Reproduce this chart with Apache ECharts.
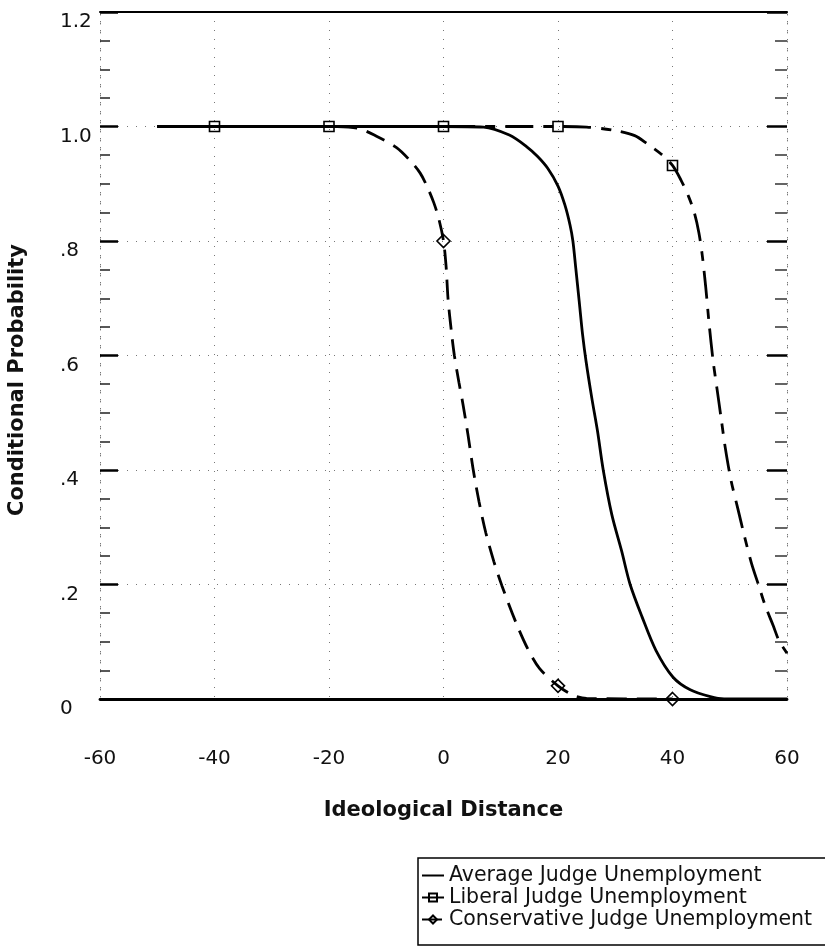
<!DOCTYPE html>
<html><head><meta charset="utf-8">
<script src="https://cdn.jsdelivr.net/npm/echarts@6/dist/echarts.min.js"></script>
<style>html,body{margin:0;padding:0;background:#fff}#c{width:825px;height:952px}</style>
</head><body><div id="c"></div>
<script>
const seriesNames = ['Average Judge Unemployment', 'Liberal Judge Unemployment', 'Conservative Judge Unemployment'];
const xTitle = 'Ideological Distance';
const yTitle = 'Conditional Probability';
const yTickLabels = ['0', '.2', '.4', '.6', '.8', '1.0', '1.2'];

const avgX = [-50, 0, 7, 11.5, 14.5, 16.4, 18.2, 20, 21.2, 22.1, 22.6, 23.1, 23.7, 24.3, 24.9, 25.9, 26.9, 27.9, 29.4, 31.1, 32.6, 34.7, 37.1, 40.1, 43.1, 46.6, 49, 60];
const avgY = [1, 1, 0.999, 0.985, 0.965, 0.948, 0.927, 0.896, 0.863, 0.828, 0.80, 0.753, 0.695, 0.636, 0.59, 0.526, 0.468, 0.40, 0.322, 0.259, 0.20, 0.143, 0.085, 0.038, 0.016, 0.004, 0, 0];

const libX = [-50, -40, -20, 0, 20, 25, 29.9, 33.4, 35.7, 38, 40, 41.5, 42.8, 43.8, 44.6, 45.2, 45.8, 46.4, 47.1, 47.8, 48.5, 49.2, 50.2, 51.4, 52.6, 53.8, 55, 56.2, 57.6, 58.6, 60];
const libY = [1, 1, 1, 1, 1, 0.999, 0.993, 0.984, 0.969, 0.952, 0.932, 0.906, 0.878, 0.85, 0.815, 0.775, 0.72, 0.655, 0.59, 0.54, 0.49, 0.44, 0.383, 0.333, 0.283, 0.237, 0.20, 0.163, 0.128, 0.102, 0.08];

const conX = [-50, -20, -15, -11.7, -8.2, -5.8, -4.1, -2.9, -1.7, -0.8, 0, 0.45, 0.8, 1.4, 1.9, 2.7, 3.4, 4.3, 5.2, 6.2, 7.4, 8.8, 10.2, 12.6, 14.7, 16.8, 20, 22.6, 25, 40];
const conY = [1, 1, 0.997, 0.983, 0.963, 0.94, 0.919, 0.896, 0.867, 0.838, 0.80, 0.756, 0.698, 0.64, 0.60, 0.553, 0.515, 0.46, 0.40, 0.345, 0.29, 0.24, 0.198, 0.135, 0.088, 0.053, 0.023, 0.007, 0.001, 0];

const libMarkX = [-40, -20, 0, 20, 40];
const conMarkX = [0, 20, 40];

function build(xs, ys, marks) {
  return xs.map((x, i) => {
    const it = { value: [x, ys[i]] };
    if (!marks.includes(x)) it.symbol = 'none';
    return it;
  });
}

const FONT = 'DejaVu Sans';
const chart = echarts.init(document.getElementById('c'), null, { renderer: 'canvas' });
const dotted = { color: '#777', width: 1, type: [1, 8] };

chart.setOption({
  animation: false,
  backgroundColor: '#fff',
  grid: { left: 100, right: 38, top: 12, bottom: 253 },
  xAxis: [{
    type: 'value', min: -60, max: 60, interval: 20, position: 'bottom',
    axisLine: { show: true, onZero: false, lineStyle: { color: '#000', width: 2.8 } },
    axisTick: { show: false },
    axisLabel: { margin: 50, fontSize: 20, color: '#111', fontFamily: FONT },
    splitLine: { show: true, lineStyle: dotted },
    name: xTitle, nameLocation: 'middle', nameGap: 101,
    nameTextStyle: { fontSize: 21, fontWeight: 'bold', color: '#111', fontFamily: FONT }
  }, {
    type: 'value', min: -60, max: 60, interval: 20, position: 'top',
    axisLine: { show: true, onZero: false, lineStyle: { color: '#000', width: 2 } },
    axisTick: { show: false }, axisLabel: { show: false }, splitLine: { show: false }
  }],
  yAxis: [{
    type: 'value', min: 0, max: 1.2, interval: 0.2, position: 'left',
    axisLine: { show: true, onZero: false, lineStyle: dotted },
    axisTick: { show: true, inside: true, length: 18, lineStyle: { color: '#000', width: 2.5 } },
    minorTick: { show: true, splitNumber: 4, length: 10, lineStyle: { color: '#222', width: 1.5 } },
    axisLabel: {
      formatter: (v, i) => yTickLabels[i], align: 'left', margin: 40, verticalAlign: 'top',
      fontSize: 20, color: '#111', fontFamily: FONT
    },
    splitLine: { show: true, lineStyle: dotted }
  }, {
    type: 'value', min: 0, max: 1.2, interval: 0.2, position: 'right',
    axisLine: { show: true, onZero: false, lineStyle: dotted },
    axisTick: { show: true, inside: true, length: 20, lineStyle: { color: '#000', width: 2.5 } },
    minorTick: { show: true, splitNumber: 4, length: 12, lineStyle: { color: '#333', width: 1.5 } },
    axisLabel: { show: false }, splitLine: { show: false }
  }],
  legend: {
    orient: 'vertical', left: 418, top: 858,
    borderColor: '#000', borderWidth: 1.5, borderRadius: 0,
    padding: [7, 14, 15, 3], itemGap: 1, itemWidth: 22, itemHeight: 10,
    textStyle: { fontSize: 20.5, color: '#111', fontFamily: FONT },
    data: seriesNames
  },
  graphic: [{
    type: 'text', x: 18, y: 380, rotation: Math.PI / 2,
    style: { text: yTitle, fontSize: 21, fontWeight: 'bold', fontFamily: FONT, fill: '#111', align: 'center', verticalAlign: 'middle' }
  }],
  series: [{
    name: seriesNames[0], type: 'line', symbol: 'none', smooth: 0.3,
    lineStyle: { color: '#000', width: 2.8, type: 'solid' }, itemStyle: { color: 'rgba(0,0,0,0)' },
    data: build(avgX, avgY, []), z: 3
  }, {
    name: seriesNames[1], type: 'line', symbol: 'rect', symbolSize: 10, showSymbol: true, showAllSymbol: true,
    smooth: 0.3,
    lineStyle: { color: '#000', width: 2.8, type: [28, 10, 10, 10] },
    itemStyle: { color: 'rgba(255,255,255,0)', borderColor: '#000', borderWidth: 1.6 },
    data: build(libX, libY, libMarkX), z: 4
  }, {
    name: seriesNames[2], type: 'line', symbol: 'diamond', symbolSize: 13, showSymbol: true, showAllSymbol: true,
    smooth: 0.3,
    lineStyle: { color: '#000', width: 2.8, type: [20, 10] },
    itemStyle: { color: 'rgba(255,255,255,0)', borderColor: '#000', borderWidth: 1.6 },
    data: build(conX, conY, conMarkX), z: 5
  }]
});
</script>
</body></html>
